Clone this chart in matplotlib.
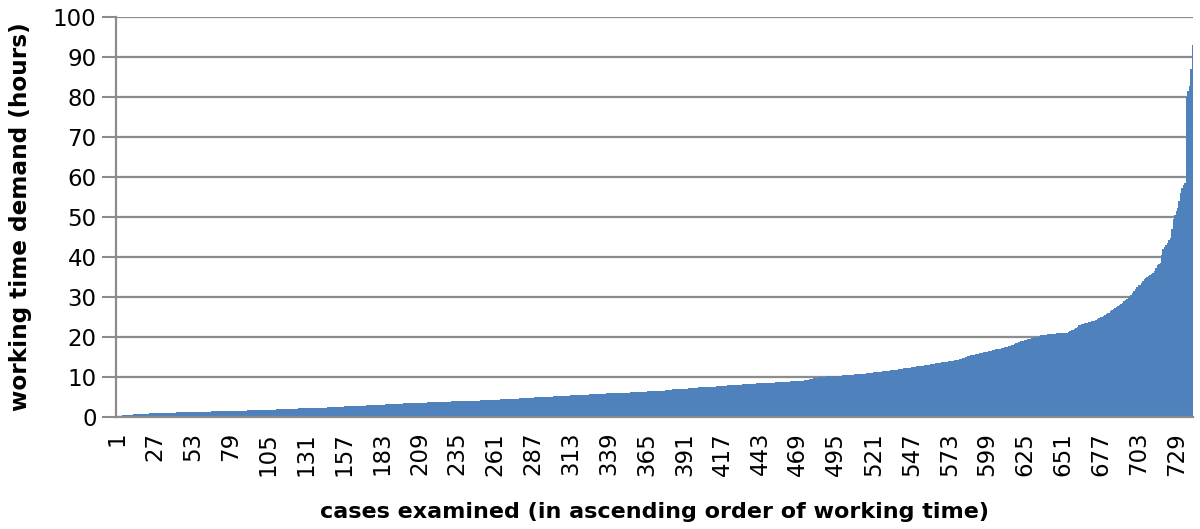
import numpy as np
import matplotlib
matplotlib.use("Agg")
import matplotlib.pyplot as plt

# working time demand (hours) per case, sorted ascending, rows of 20 cases
hours = [
    0.10,0.15,0.20,0.25,0.28,0.30,0.33,0.36,0.40,0.45,0.48,0.50,0.52,0.55,0.57,0.60,0.62,0.64,0.66,0.68,
    0.70,0.72,0.74,0.76,0.78,0.80,0.82,0.84,0.86,0.88,0.90,0.91,0.92,0.93,0.94,0.95,0.96,0.97,0.98,0.99,
    1.00,1.01,1.02,1.03,1.04,1.05,1.06,1.07,1.08,1.09,1.10,1.11,1.12,1.13,1.14,1.15,1.16,1.18,1.19,1.20,
    1.21,1.22,1.23,1.24,1.25,1.26,1.27,1.28,1.29,1.30,1.31,1.32,1.33,1.34,1.35,1.36,1.37,1.38,1.39,1.40,
    1.41,1.42,1.43,1.44,1.45,1.46,1.47,1.48,1.49,1.50,1.51,1.52,1.53,1.54,1.55,1.56,1.57,1.58,1.59,1.60,
    1.61,1.62,1.64,1.65,1.67,1.68,1.70,1.71,1.73,1.74,1.76,1.77,1.79,1.80,1.82,1.83,1.85,1.86,1.88,1.90,
    1.92,1.94,1.96,1.98,2.00,2.01,2.02,2.03,2.04,2.05,2.06,2.07,2.08,2.10,2.11,2.13,2.15,2.16,2.18,2.20,
    2.21,2.22,2.23,2.24,2.25,2.27,2.29,2.31,2.33,2.35,2.37,2.39,2.41,2.43,2.45,2.47,2.49,2.51,2.53,2.55,
    2.57,2.59,2.61,2.62,2.63,2.64,2.65,2.67,2.70,2.71,2.72,2.74,2.76,2.78,2.80,2.82,2.84,2.86,2.88,2.90,
    2.92,2.94,2.96,2.98,3.00,3.02,3.04,3.06,3.08,3.10,3.12,3.14,3.16,3.18,3.20,3.22,3.24,3.26,3.28,3.30,
    3.31,3.32,3.33,3.34,3.35,3.36,3.37,3.38,3.40,3.42,3.44,3.46,3.48,3.50,3.52,3.54,3.56,3.57,3.58,3.60,
    3.61,3.62,3.63,3.64,3.65,3.67,3.69,3.71,3.73,3.75,3.76,3.77,3.78,3.79,3.80,3.82,3.84,3.86,3.88,3.90,
    3.91,3.92,3.93,3.94,3.95,3.96,3.97,3.98,3.99,4.00,4.02,4.04,4.06,4.08,4.10,4.12,4.14,4.15,4.16,4.18,
    4.20,4.22,4.24,4.25,4.26,4.27,4.28,4.30,4.32,4.34,4.36,4.38,4.40,4.42,4.44,4.47,4.50,4.53,4.56,4.60,
    4.62,4.64,4.66,4.68,4.70,4.72,4.74,4.76,4.78,4.80,4.82,4.84,4.86,4.88,4.90,4.92,4.94,4.96,4.98,5.00,
    5.02,5.04,5.06,5.08,5.10,5.12,5.14,5.16,5.18,5.20,5.22,5.24,5.26,5.28,5.30,5.32,5.34,5.36,5.38,5.40,
    5.42,5.44,5.46,5.48,5.50,5.52,5.54,5.56,5.58,5.60,5.62,5.64,5.66,5.70,5.72,5.74,5.75,5.76,5.78,5.80,
    5.82,5.84,5.86,5.88,5.90,5.91,5.92,5.93,5.94,5.95,5.96,5.98,6.00,6.02,6.04,6.06,6.08,6.10,6.12,6.15,
    6.17,6.19,6.21,6.23,6.25,6.27,6.29,6.30,6.31,6.32,6.33,6.34,6.35,6.36,6.38,6.40,6.45,6.55,6.62,6.70,
    6.72,6.74,6.76,6.78,6.80,6.82,6.84,6.86,6.88,6.90,6.92,6.95,6.98,7.01,7.04,7.07,7.10,7.15,7.20,7.25,
    7.28,7.30,7.32,7.34,7.36,7.38,7.40,7.42,7.44,7.46,7.48,7.50,7.52,7.55,7.58,7.61,7.64,7.67,7.70,7.75,
    7.78,7.81,7.84,7.87,7.90,7.92,7.94,7.96,7.98,8.00,8.02,8.04,8.06,8.08,8.10,8.13,8.16,8.19,8.22,8.25,
    8.27,8.29,8.31,8.33,8.35,8.37,8.39,8.41,8.43,8.45,8.47,8.49,8.51,8.53,8.55,8.58,8.61,8.64,8.67,8.70,
    8.72,8.74,8.76,8.78,8.80,8.82,8.84,8.86,8.88,8.90,8.92,8.95,9.00,9.08,9.16,9.24,9.32,9.40,9.48,9.56,
    9.64,9.72,9.80,9.86,9.90,9.93,9.96,9.99,10.02,10.04,10.06,10.08,10.10,10.12,10.14,10.16,10.19,10.22,10.26,10.30,
    10.33,10.36,10.39,10.42,10.45,10.48,10.51,10.54,10.57,10.60,10.63,10.66,10.69,10.72,10.76,10.80,10.85,10.90,10.95,11.00,
    11.04,11.08,11.12,11.16,11.20,11.24,11.28,11.32,11.36,11.40,11.45,11.50,11.60,11.62,11.64,11.68,11.72,11.78,11.84,11.90,
    11.96,12.02,12.08,12.14,12.20,12.26,12.32,12.38,12.44,12.50,12.55,12.60,12.65,12.70,12.75,12.80,12.86,12.92,13.00,13.10,
    13.15,13.20,13.25,13.30,13.35,13.42,13.50,13.55,13.60,13.65,13.70,13.75,13.80,13.85,13.90,13.96,14.04,14.12,14.20,14.30,
    14.40,14.55,14.70,14.85,15.00,15.10,15.20,15.30,15.40,15.50,15.60,15.68,15.76,15.84,15.92,16.00,16.08,16.16,16.24,16.32,
    16.40,16.50,16.60,16.70,16.80,16.90,16.95,17.00,17.10,17.20,17.30,17.40,17.50,17.60,17.70,17.85,18.00,18.15,18.30,18.50,
    18.65,18.80,18.90,19.00,19.10,19.20,19.30,19.40,19.50,19.60,19.70,19.80,19.90,20.00,20.15,20.30,20.35,20.40,20.45,20.50,
    20.60,20.65,20.70,20.72,20.74,20.76,20.78,20.80,20.85,20.90,20.92,20.94,20.96,21.00,21.20,21.50,21.60,21.70,21.90,22.20,
    22.50,22.80,23.00,23.10,23.20,23.30,23.40,23.50,23.60,23.70,23.80,23.90,24.00,24.20,24.40,24.60,24.80,25.00,25.20,25.40,
    25.60,25.80,26.00,26.30,26.60,26.90,27.10,27.30,27.60,27.90,28.20,28.50,28.80,29.20,29.50,29.80,30.00,30.50,31.00,31.50,
    32.00,32.50,32.80,33.00,33.50,34.00,34.30,34.60,34.90,35.20,35.40,35.60,35.90,36.50,37.20,37.80,38.10,38.50,40.50,42.00,
    42.50,43.00,43.50,44.20,44.70,47.00,49.50,50.50,51.50,52.20,54.00,56.00,57.20,58.00,58.50,80.00,81.50,82.70,87.00,93.00,
]
cases = list(range(1, len(hours) + 1))
x_tick_labels = list(range(1, len(hours) + 1, 26))
y_ticks = list(range(0, 101, 10))

plt.rcParams['font.family'] = ['DejaVu Sans']

fig = plt.figure(figsize=(12, 5.29), dpi=100)
ax = fig.add_axes([116/1200, 1 - 416.5/529, (1193 - 116)/1200, (416.5 - 17)/529])

ax.bar(cases, hours, width=1.0, color='#4F81BD', edgecolor='none', zorder=3, linewidth=0)

ax.set_xlim(0.5, len(hours) + 0.5)
ax.set_ylim(0, 100)
ax.set_yticks(y_ticks)
ax.set_xticks(x_tick_labels)
ax.set_xticklabels([str(v) for v in x_tick_labels], rotation=90, fontsize=16.5)
ax.tick_params(axis='x', length=0, pad=11)
ax.tick_params(axis='y', length=10, width=1.5, color='#8C8C8C', labelsize=16.5, pad=4)

ax.grid(axis='y', color='#8C8C8C', linewidth=1.6, zorder=1)
ax.set_axisbelow(True)
for s in ['top', 'right']:
    ax.spines[s].set_visible(False)
for s in ['left', 'bottom']:
    ax.spines[s].set_color('#8C8C8C')
    ax.spines[s].set_linewidth(1.6)
    ax.spines[s].set_zorder(4)

ax.set_ylabel('working time demand (hours)', fontsize=16.7, fontweight='bold', labelpad=15)
ax.set_xlabel('cases examined (in ascending order of working time)', fontsize=16, fontweight='bold', labelpad=19)

fig.savefig('out.png', dpi=100)
